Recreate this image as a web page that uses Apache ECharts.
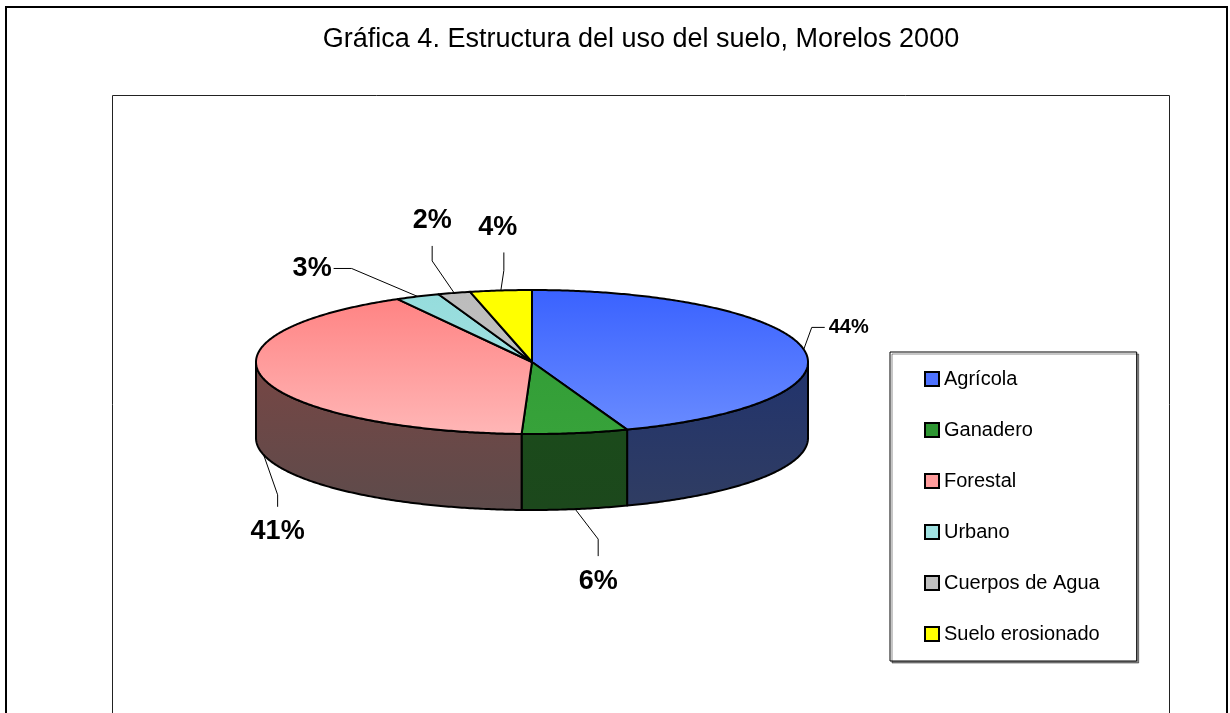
<!DOCTYPE html>
<html>
<head>
<meta charset="utf-8">
<script src="https://cdn.jsdelivr.net/npm/echarts@6/dist/echarts.min.js"></script>
<style>
  html, body { margin: 0; padding: 0; background: #fff; }
  #chart { width: 1230px; height: 713px; }
</style>
</head>
<body>
<div id="chart"></div>
<script>
// land use shares (percent)
const categories = ['Agrícola', 'Ganadero', 'Forestal', 'Urbano', 'Cuerpos de Agua', 'Suelo erosionado'];
const shares = [44.4, 6.2, 41.3, 2.6, 1.9, 3.6];

// colours: top face gradient (from, to), side wall gradient (from, to), legend
const topColors = [['#3a62ff', '#6a8cff'], ['#2f9a34', '#37a23a'], ['#ff8080', '#ffb6b6'],
  ['#95dcdc', '#a6e4e4'], ['#bcbcbc', '#c4c4c4'], ['#ffff00', '#ffff00']];
const wallColors = [['#21336d', '#303d62'], ['#1a4c1a', '#1c481c'], ['#774644', '#5d4b4b'],
  ['#4a6e6e', '#4a6e6e'], ['#606060', '#606060'], ['#7f7f00', '#7f7f00']];
const legendColors = ['#4e72ff', '#2e9632', '#ff9c9c', '#a0e2e2', '#c0c0c0', '#ffff00'];

// pie geometry
const cx = 532, cy = 362, rx = 276, ry = 72, depth = 76;

// leader lines: [elbow dx, dy], [end dx, dy] relative to the slice anchor; label side
const leaders = [
  { elbow: [8, -22], end: [21, -22], align: 'left', size: 20 },
  { elbow: [23, 30], end: [23, 47], align: 'center', size: 27 },
  { elbow: [14, 40], end: [14, 52], align: 'center', size: 27 },
  { elbow: [-66, -28], end: [-84, -28], align: 'right', size: 27 },
  { elbow: [-22, -32], end: [-22, -47], align: 'center', size: 27 },
  { elbow: [3, -20], end: [3, -38], align: 'center', size: 27, shift: -6 }
];

const total = shares.reduce((a, b) => a + b, 0);
const starts = [];
shares.reduce((acc, v, i) => { starts[i] = acc; return acc + v; }, 0);

function pt(t, dy) {
  return [cx + rx * Math.sin(t), cy - ry * Math.cos(t) + (dy || 0)];
}
function arc(a, b, dy) {
  const pts = [];
  const n = Math.max(2, Math.ceil((b - a) / 0.01));
  for (let k = 0; k <= n; k++) pts.push(pt(a + (b - a) * k / n, dy));
  return pts;
}
function grad(c, y0, y1) {
  return new echarts.graphic.LinearGradient(0, y0, 0, y1, [
    { offset: 0, color: c[0] }, { offset: 1, color: c[1] }
  ], true);
}

function makeRender(i) {
  return function (params, api) {
    const a = starts[i] / total * Math.PI * 2;
    const b = (starts[i] + api.value(0)) / total * Math.PI * 2;
    const children = [];

    // top face
    children.push({
      type: 'polygon',
      z2: 10,
      shape: { points: [[cx, cy]].concat(arc(a, b)) },
      style: { fill: grad(topColors[i], cy - ry, cy + ry), stroke: '#000', lineWidth: 2, lineJoin: 'round' }
    });

    // front wall
    const wa = Math.max(a, Math.PI / 2), wb = Math.min(b, Math.PI * 1.5);
    if (wb > wa) {
      const top = arc(wa, wb);
      const bot = arc(wa, wb, depth).reverse();
      children.push({
        type: 'polygon',
        z2: 1,
        shape: { points: top.concat(bot) },
        style: { fill: grad(wallColors[i], cy, cy + ry + depth), stroke: '#000', lineWidth: 2, lineJoin: 'round' }
      });
    }

    // label with leader
    const mid = (a + b) / 2;
    const front = Math.cos(mid) < -0.1;
    const anchor = pt(mid, front ? depth : 0);
    const L = leaders[i];
    const elbow = [anchor[0] + L.elbow[0], anchor[1] + L.elbow[1]];
    const end = [anchor[0] + L.end[0], anchor[1] + L.end[1]];
    children.push({
      type: 'polyline',
      z2: 20,
      shape: { points: [anchor, elbow, end] },
      style: { stroke: '#000', lineWidth: 1, fill: null }
    });
    const pct = Math.round(api.value(0) / total * 100) + '%';
    let tx = end[0] + (L.shift || 0), ty = end[1], align = 'center';
    if (L.align === 'left') { tx += 4; align = 'left'; }
    else if (L.align === 'right') { tx -= 2; align = 'right'; }
    else if (L.end[1] > L.elbow[1]) { ty += 25; }
    else { ty -= 25; }
    children.push({
      type: 'text',
      z2: 30,
      x: tx, y: ty,
      style: {
        text: pct, align: align, verticalAlign: 'middle',
        font: 'bold ' + L.size + 'px "Liberation Sans", Arial, sans-serif',
        fill: '#000'
      }
    });
    return { type: 'group', children: children };
  };
}

const chart = echarts.init(document.getElementById('chart'), null, { renderer: 'canvas' });

const series = categories.map((name, i) => ({
  type: 'custom',
  name: name,
  coordinateSystem: 'none',
  itemStyle: { color: legendColors[i] },
  renderItem: makeRender(i),
  data: [[shares[i]]],
  silent: true,
  animation: false
}));

chart.setOption({
  animation: false,
  title: {
    text: 'Gráfica 4. Estructura del uso del suelo, Morelos 2000',
    left: 641,
    textAlign: 'center',
    top: 26,
    padding: 0,
    textStyle: { fontFamily: '"Liberation Sans", Arial, sans-serif', fontWeight: 'normal', fontSize: 27, color: '#000' }
  },
  graphic: [
    { type: 'rect', shape: { x: 6, y: 7, width: 1221, height: 720 }, style: { fill: null, stroke: '#000', lineWidth: 2 }, silent: true },
    { type: 'rect', shape: { x: 112.5, y: 95.5, width: 1057, height: 700 }, style: { fill: null, stroke: '#222', lineWidth: 1 }, silent: true }
  ],
  legend: {
    orient: 'vertical',
    left: 890,
    top: 352,
    width: 248,
    padding: [17, 37, 17, 34],
    itemGap: 31,
    itemWidth: 14,
    itemHeight: 14,
    icon: 'rect',
    selectedMode: false,
    backgroundColor: '#fff',
    borderColor: '#000',
    borderWidth: 1,
    shadowColor: 'rgba(0,0,0,0.45)',
    shadowOffsetX: 2,
    shadowOffsetY: 2,
    shadowBlur: 0,
    itemStyle: { borderColor: '#000', borderWidth: 2 },
    textStyle: { fontFamily: '"Liberation Sans", Arial, sans-serif', fontSize: 20, lineHeight: 20, color: '#000' },
    data: categories
  },
  series: series
});
</script>
</body>
</html>
